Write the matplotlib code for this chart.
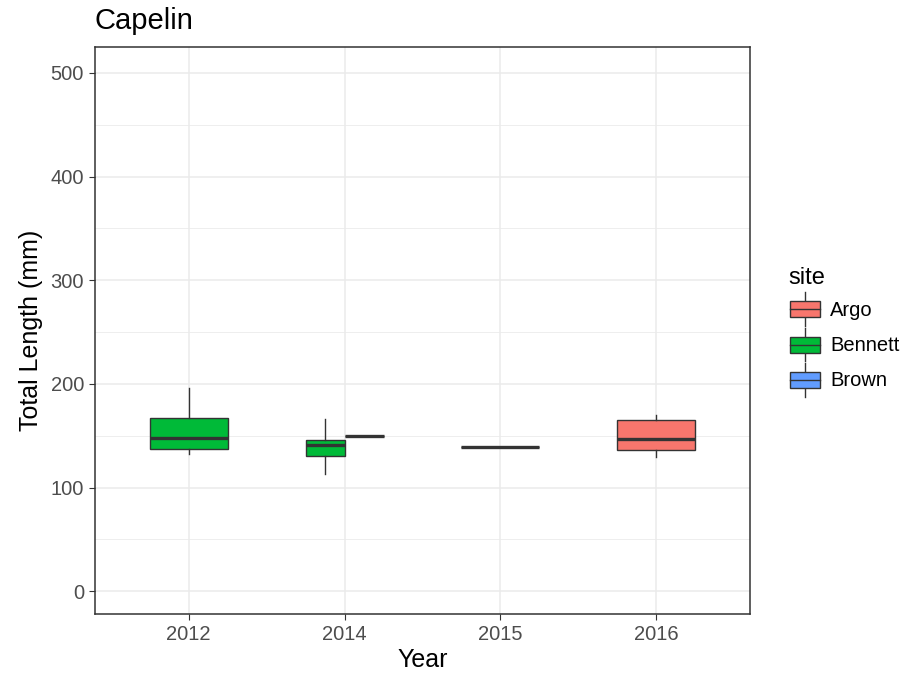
import matplotlib
matplotlib.use('Agg')
import matplotlib.pyplot as plt
import numpy as np
from matplotlib.legend_handler import HandlerBase
from matplotlib.patches import Rectangle, Patch
from matplotlib.lines import Line2D

plt.rcParams['font.family'] = ['Liberation Sans', 'DejaVu Sans']

# data
years = ['2012', '2014', '2015', '2016']
sites = ['Argo', 'Bennett', 'Brown']
site_colors = ['#F8766D', '#00BA38', '#619CFF']

box_year = ['2012', '2014', '2014', '2015', '2016']
box_site = ['Bennett', 'Bennett', 'Brown', 'Brown', 'Argo']
whislo = [132, 113, 150, 139, 129]
q1 = [137, 130, 150, 139, 136]
med = [148, 141, 150, 139, 147]
q3 = [167, 146, 150, 139, 165]
whishi = [196, 166, 150, 139, 170]

edge = '#333333'
grid = '#EBEBEB'
box_width = 0.5


class BoxKeyHandler(HandlerBase):
    def create_artists(self, legend, orig_handle, xdescent, ydescent,
                       width, height, fontsize, trans):
        cx = width / 2 - xdescent
        cy = height / 2 - ydescent
        w = width * 0.88
        h = height * 0.55
        whisk = Line2D([cx, cx], [cy - height * 0.58, cy + height * 0.58],
                       color=edge, lw=1.0, transform=trans)
        rect = Rectangle((cx - w / 2, cy - h / 2), w, h, facecolor=orig_handle.get_facecolor(),
                         edgecolor=edge, lw=1.0, transform=trans)
        mid = Line2D([cx - w / 2, cx + w / 2], [cy, cy],
                     color=edge, lw=1.0, transform=trans)
        return [whisk, rect, mid]


fig = plt.figure(figsize=(9.09, 6.73), dpi=100)
ax = fig.add_axes([95 / 909, 1 - 614 / 673, 655 / 909, 567 / 673])

# dodge positions within each year
positions = []
widths = []
for i, (yr, st) in enumerate(zip(box_year, box_site)):
    same = [s for y, s in zip(box_year, box_site) if y == yr]
    n = len(same)
    k = same.index(st)
    w = box_width / n
    positions.append(years.index(yr) - box_width / 2 + w * (k + 0.5))
    widths.append(w)

stats = []
for i in range(len(box_year)):
    stats.append(dict(whislo=whislo[i], q1=q1[i], med=med[i], q3=q3[i],
                      whishi=whishi[i], fliers=[]))

bp = ax.bxp(stats, positions=positions, widths=widths, patch_artist=True,
            showcaps=False, manage_ticks=False,
            boxprops=dict(edgecolor=edge, linewidth=1.0),
            whiskerprops=dict(color=edge, linewidth=1.0),
            medianprops=dict(color=edge, linewidth=2.4, solid_capstyle='butt'))
for patch, st in zip(bp['boxes'], box_site):
    patch.set_facecolor(site_colors[sites.index(st)])
for p in bp['boxes'] + bp['whiskers'] + bp['medians']:
    p.set_zorder(3)

ax.set_xlim(-0.6, len(years) - 1 + 0.6)
ax.set_ylim(-22, 525)
ax.set_xticks(range(len(years)))
ax.set_xticklabels(years)
ax.set_yticks(np.arange(0, 501, 100))
ax.set_yticks(np.arange(50, 501, 100), minor=True)
ax.grid(True, which='major', color=grid, lw=1.1, zorder=0)
ax.grid(True, which='minor', axis='y', color=grid, lw=0.6, zorder=0)
ax.set_axisbelow(True)
ax.tick_params(axis='both', which='major', length=4.5, color=edge,
               labelcolor='#4D4D4D', labelsize=14.5, pad=3.5)
ax.tick_params(axis='y', which='minor', length=0)
for s in ax.spines.values():
    s.set_color(edge)
    s.set_linewidth(1.1)

ax.set_xlabel('Year', fontsize=18, color='black', labelpad=3)
ax.set_ylabel('Total Length (mm)', fontsize=18, color='black', labelpad=5)
ax.set_title('Capelin', fontsize=21, loc='left', pad=13, color='black')

handles = [Patch(facecolor=c) for c in site_colors]
leg = ax.legend(handles, sites, title='site', loc='center left',
                bbox_to_anchor=(1 + 38 / 655, 0.5), frameon=False,
                handler_map={Patch: BoxKeyHandler()}, fontsize=14.5,
                title_fontsize=17, handlelength=1.7, handleheight=1.85,
                labelspacing=0.3, handletextpad=0.4, borderpad=0,
                borderaxespad=0, alignment='left')

fig.savefig('out.png', dpi=100)
